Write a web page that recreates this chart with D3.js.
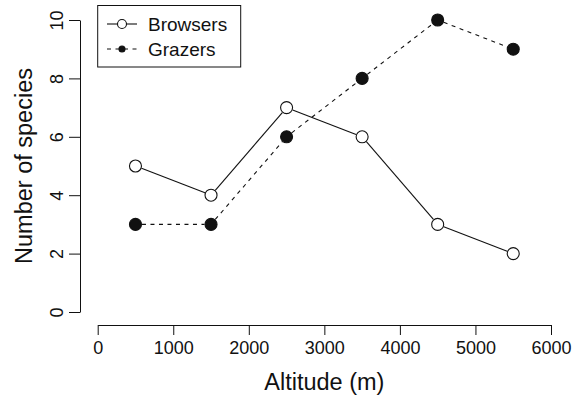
<!DOCTYPE html>
<html>
<head>
<meta charset="utf-8">
<script src="https://cdn.jsdelivr.net/npm/d3@7"></script>
<style>
  body { margin: 0; background: #fff; }
  svg { display: block; font-family: "Liberation Sans", Arial, Helvetica, sans-serif; }
</style>
</head>
<body>
<div id="chart"></div>
<script>
// data
const altitudes = [500, 1500, 2500, 3500, 4500, 5500];
const browsers = [5, 4, 7, 6, 3, 2];
const grazers = [3, 3, 6, 8, 10, 9];
const xTicks = [0, 1000, 2000, 3000, 4000, 5000, 6000];
const yTicks = [0, 2, 4, 6, 8, 10];
const seriesNames = ["Browsers", "Grazers"];

const width = 580, height = 399;
const ink = "#111";
const font = "Liberation Sans, Arial, Helvetica, sans-serif";

const svg = d3.select("#chart").append("svg")
  .attr("width", width)
  .attr("height", height);

const x = d3.scaleLinear().domain([0, 6000]).range([97.7, 551]);
const y = d3.scaleLinear().domain([0, 10]).range([312, 20]);

// x axis (R style, sits below the plot)
const xAxis = svg.append("g")
  .attr("transform", "translate(0,325)")
  .call(d3.axisBottom(x).tickValues(xTicks).tickFormat(d3.format("d"))
    .tickSize(10).tickSizeOuter(0).tickPadding(6));
xAxis.attr("font-family", font).attr("font-size", 18);
xAxis.selectAll("text").attr("fill", ink);
xAxis.selectAll("line, path").attr("stroke", ink);

// y axis
const yAxis = svg.append("g")
  .attr("transform", "translate(80,0)")
  .call(d3.axisLeft(y).tickValues(yTicks).tickFormat(d3.format("d"))
    .tickSize(11).tickSizeOuter(0));
yAxis.attr("font-family", font).attr("font-size", 18);
yAxis.selectAll("line, path").attr("stroke", ink);
yAxis.selectAll("text")
  .attr("fill", ink)
  .attr("transform", "rotate(-90)")
  .attr("x", 0).attr("y", -17).attr("dy", 0)
  .attr("text-anchor", "middle");

// axis titles
svg.append("text")
  .attr("x", x(3000)).attr("y", 390)
  .attr("text-anchor", "middle")
  .attr("font-size", 23.5).attr("fill", ink)
  .text("Altitude (m)");

svg.append("text")
  .attr("transform", `translate(32,${y(5)}) rotate(-90)`)
  .attr("text-anchor", "middle")
  .attr("font-size", 23.5).attr("fill", ink)
  .text("Number of species");

// lines with gaps around the points (type = "b")
function gappedSegments(vals, gap) {
  const segs = [];
  for (let i = 0; i < vals.length - 1; i++) {
    const x1 = x(altitudes[i]), y1 = y(vals[i]);
    const x2 = x(altitudes[i + 1]), y2 = y(vals[i + 1]);
    const len = Math.hypot(x2 - x1, y2 - y1);
    const ux = (x2 - x1) / len, uy = (y2 - y1) / len;
    segs.push([x1 + ux * gap, y1 + uy * gap, x2 - ux * gap, y2 - uy * gap]);
  }
  return segs;
}

const series = [
  { name: seriesNames[0], vals: browsers, dash: null, filled: false },
  { name: seriesNames[1], vals: grazers, dash: "4,4.5", filled: true }
];

series.forEach(s => {
  const g = svg.append("g");
  g.selectAll("line")
    .data(gappedSegments(s.vals, 6.5))
    .enter().append("line")
    .attr("x1", d => d[0]).attr("y1", d => d[1])
    .attr("x2", d => d[2]).attr("y2", d => d[3])
    .attr("stroke", ink).attr("stroke-width", 1.1)
    .attr("stroke-dasharray", s.dash);
  g.selectAll("circle")
    .data(s.vals)
    .enter().append("circle")
    .attr("cx", (d, i) => x(altitudes[i]))
    .attr("cy", d => y(d))
    .attr("r", 6)
    .attr("fill", s.filled ? ink : "none")
    .attr("stroke", ink).attr("stroke-width", 1.1);
});

// legend
const legend = svg.append("g");
legend.append("rect")
  .attr("x", 97.7).attr("y", 5.5).attr("width", 143).attr("height", 61.5)
  .attr("fill", "none").attr("stroke", ink).attr("stroke-width", 1);

series.forEach((s, i) => {
  const ly = 24 + i * 25;
  legend.append("line")
    .attr("x1", 107).attr("x2", 137).attr("y1", ly).attr("y2", ly)
    .attr("stroke", ink).attr("stroke-width", 1.1)
    .attr("stroke-dasharray", s.dash);
  legend.append("circle")
    .attr("cx", 122).attr("cy", ly)
    .attr("r", s.filled ? 3 : 4.5)
    .attr("fill", s.filled ? ink : "#fff")
    .attr("stroke", ink).attr("stroke-width", 1.1);
  legend.append("text")
    .attr("x", 148).attr("y", ly).attr("dy", "0.35em")
    .attr("font-size", 19).attr("fill", ink)
    .text(s.name);
});
</script>
</body>
</html>
